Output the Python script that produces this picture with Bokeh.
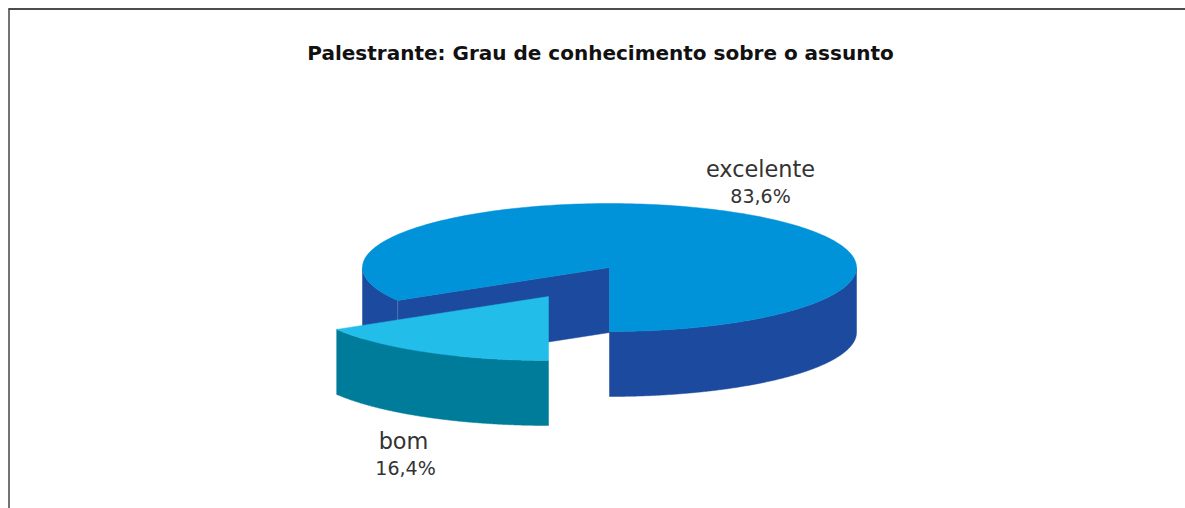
import numpy as np
from bokeh.plotting import figure
from bokeh.models import Range1d
from bokeh.core.properties import value
from bokeh.embed import file_html
from bokeh.resources import INLINE

title_text = "Palestrante: Grau de conhecimento sobre o assunto"
categories = ["excelente", "bom"]
shares = [83.6, 16.4]
share_labels = ["83,6%", "16,4%"]

W, H = 1185, 508
CX, CY, RX, RY, DEPTH = 609, 267, 247, 64, 65
BOM_DX, BOM_DY = -61, 29
TOP = ["#0093DA", "#22BDE9"]
WALL = ["#1B4A9E", "#007C9B"]
LABEL_FONT = value("DejaVu Sans ExtraLight, DejaVu Sans")

p = figure(width=W, height=H, output_backend="svg", toolbar_location=None,
           x_range=Range1d(0, W), y_range=Range1d(H, 0),
           min_border=0, outline_line_color=None, background_fill_color="white")
p.axis.visible = False
p.grid.visible = False

def rim(a0, a1, cx, cy):
    t = np.radians(np.linspace(a0, a1, 240))
    return cx + RX * np.cos(t), cy - RY * np.sin(t)

def wall(a0, a1, cx, cy):
    x, y = rim(a0, a1, cx, cy)
    return np.r_[x, x[::-1]], np.r_[y, y[::-1] + DEPTH]

start = 270.0
end_ex = start + shares[0] / 100 * 360      # counter-clockwise from the front
edge = end_ex - 360                         # angle of the cut edge on the left

# excelente: outer walls, cut wall, top
for a0, a1 in [(start, 360.0), (180.0, edge)]:
    x, y = wall(a0, a1, CX, CY)
    p.patch(x, y, fill_color=WALL[0], line_color=WALL[0], line_width=0.5)

ex, ey = rim(edge, edge, CX, CY)
p.patch([CX, ex[0], ex[0], CX], [CY, ey[0], ey[0] + DEPTH, CY + DEPTH],
        fill_color=WALL[0], line_color=WALL[0], line_width=0.5)
p.line([ex[0], ex[0]], [ey[0], ey[0] + DEPTH], line_color="#4F73B8", line_width=1)

x, y = rim(start, end_ex, CX, CY)
p.patch(np.r_[CX, x], np.r_[CY, y], fill_color=TOP[0], line_color=TOP[0], line_width=0.5)

# bom: outer wall, top
bx, by = CX + BOM_DX, CY + BOM_DY
x, y = wall(edge, start, bx, by)
p.patch(x, y, fill_color=WALL[1], line_color=WALL[1], line_width=0.5)
x, y = rim(edge, start, bx, by)
p.patch(np.r_[bx, x], np.r_[by, y], fill_color=TOP[1], line_color=TOP[1], line_width=0.5)

# frame
p.line([8, W], [8.5, 8.5], line_color="#111111", line_width=1.5)
p.line([8.5, 8.5], [8, H], line_color="#444444", line_width=1.5)

# texts
p.text([600], [52], text=[title_text], text_font=value("DejaVu Sans"), text_font_style="bold",
       text_font_size="20px", text_align="center", text_baseline="middle", text_color="#111111")
p.text([760, 403], [168, 440], text=categories,
       text_font=LABEL_FONT, text_font_size="22.4px",
       text_align="center", text_baseline="middle", text_color="#333333")
p.text([760, 405], [195, 467], text=share_labels,
       text_font=LABEL_FONT, text_font_size="19px",
       text_align="center", text_baseline="middle", text_color="#333333")

open("out.html", "w").write(file_html(p, INLINE))
